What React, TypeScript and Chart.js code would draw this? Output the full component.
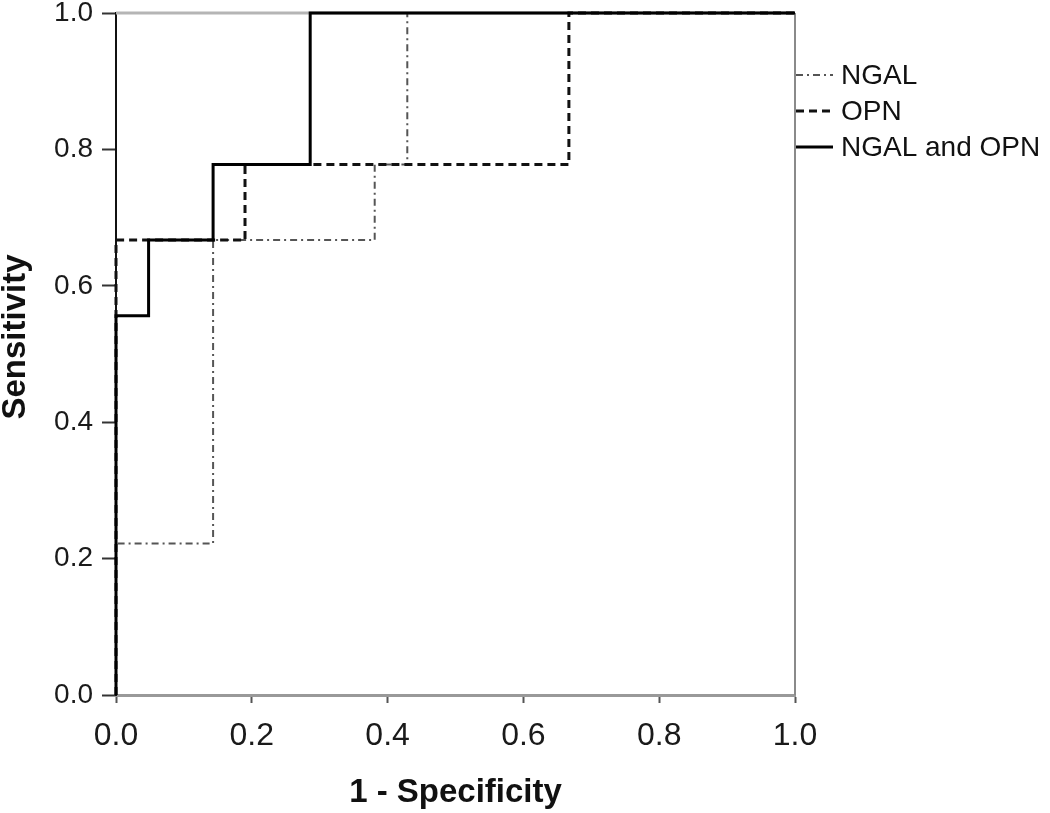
import React, { useEffect, useRef } from "react";
import { Chart, registerables } from "chart.js";

Chart.register(...registerables);

// ROC curve points (1 - Specificity, Sensitivity)
const combinedFpr = [0, 0, 0.048, 0.048, 0.143, 0.143, 0.286, 0.286, 1.0];
const combinedTpr = [0, 0.556, 0.556, 0.667, 0.667, 0.778, 0.778, 1.0, 1.0];

const opnFpr = [0, 0, 0.19, 0.19, 0.667, 0.667, 1.0];
const opnTpr = [0, 0.667, 0.667, 0.778, 0.778, 1.0, 1.0];

const ngalFpr = [0, 0, 0.143, 0.143, 0.381, 0.381, 0.429, 0.429, 1.0];
const ngalTpr = [0, 0.222, 0.222, 0.667, 0.667, 0.778, 0.778, 1.0, 1.0];

const seriesNames = ["NGAL", "OPN", "NGAL and OPN"];
const tickValues = [0, 0.2, 0.4, 0.6, 0.8, 1.0];
const xTitle = "1 - Specificity";
const yTitle = "Sensitivity";

const FONT = "'Liberation Sans', Arial, sans-serif";

const toPoints = (xs: number[], ys: number[]) => xs.map((x, i) => ({ x, y: ys[i] }));

export default function App() {
  const ref = useRef<HTMLCanvasElement | null>(null);

  useEffect(() => {
    const canvas = ref.current;
    if (!canvas) return;

    const legendItems = [
      { label: seriesNames[0], color: "#555", width: 2, dash: [7, 4, 2, 4] },
      { label: seriesNames[1], color: "#111", width: 3, dash: [8, 5] },
      { label: seriesNames[2], color: "#000", width: 3, dash: [] as number[] },
    ];
    const legendOffsets = [62, 98, 134];

    const framePlugin = {
      id: "frame",
      beforeDatasetsDraw(chart: any) {
        const { ctx, chartArea } = chart;
        ctx.save();
        ctx.strokeStyle = "#b5b5b5";
        ctx.lineWidth = 3;
        ctx.beginPath();
        ctx.moveTo(chartArea.left, chartArea.top);
        ctx.lineTo(chartArea.right, chartArea.top);
        ctx.stroke();
        ctx.strokeStyle = "#8a8a8a";
        ctx.lineWidth = 2;
        ctx.beginPath();
        ctx.moveTo(chartArea.right, chartArea.top);
        ctx.lineTo(chartArea.right, chartArea.bottom);
        ctx.stroke();
        ctx.restore();
      },
      afterDraw(chart: any) {
        const { ctx, chartArea } = chart;
        ctx.save();
        legendItems.forEach((it, i) => {
          const y = chartArea.top + legendOffsets[i];
          ctx.strokeStyle = it.color;
          ctx.lineWidth = it.width;
          ctx.setLineDash(it.dash);
          ctx.beginPath();
          ctx.moveTo(chartArea.right + 1, y);
          ctx.lineTo(chartArea.right + 38, y);
          ctx.stroke();
          ctx.setLineDash([]);
          ctx.fillStyle = "#111";
          ctx.font = `28px ${FONT}`;
          ctx.textAlign = "left";
          ctx.textBaseline = "middle";
          ctx.fillText(it.label, chartArea.right + 46, y + 1);
        });
        // y axis title
        ctx.save();
        ctx.translate(16, chartArea.top + 324);
        ctx.rotate(-Math.PI / 2);
        ctx.fillStyle = "#111";
        ctx.font = `bold 33px ${FONT}`;
        ctx.textAlign = "center";
        ctx.textBaseline = "middle";
        ctx.fillText(yTitle, 0, 0);
        ctx.restore();
        ctx.restore();
      },
    };

    const chart = new Chart(canvas, {
      type: "line",
      data: {
        datasets: [
          {
            label: seriesNames[2],
            data: toPoints(combinedFpr, combinedTpr),
            borderColor: "#000",
            borderWidth: 3,
            pointRadius: 0,
            fill: false,
            tension: 0,
            clip: 8,
          },
          {
            label: seriesNames[1],
            data: toPoints(opnFpr, opnTpr),
            borderColor: "#111",
            borderWidth: 3,
            borderDash: [8, 5],
            pointRadius: 0,
            fill: false,
            tension: 0,
            clip: 8,
          },
          {
            label: seriesNames[0],
            data: toPoints(ngalFpr, ngalTpr),
            borderColor: "#555",
            borderWidth: 2,
            borderDash: [7, 4, 2, 4],
            pointRadius: 0,
            fill: false,
            tension: 0,
            clip: 8,
          },
        ],
      },
      options: {
        responsive: false,
        animation: false,
        layout: { padding: { left: 0, top: 13, right: 255, bottom: 0 } },
        plugins: {
          legend: { display: false },
          tooltip: { enabled: false },
        },
        scales: {
          x: {
            type: "linear",
            min: 0,
            max: 1,
            afterBuildTicks: (scale: any) => {
              scale.ticks = tickValues.map((v) => ({ value: v }));
            },
            afterFit: (scale: any) => {
              scale.height = 118;
              scale.paddingLeft = 0;
              scale.paddingRight = 0;
            },
            ticks: {
              callback: (v: any) => Number(v).toFixed(1),
              color: "#1a1a1a",
              font: { family: FONT, size: 32 },
              padding: 14,
              maxRotation: 0,
              autoSkip: false,
            },
            grid: {
              drawOnChartArea: false,
              drawTicks: true,
              tickLength: 8,
              tickColor: "#555",
              tickWidth: 2,
            },
            border: { display: true, color: "#999", width: 3 },
            title: {
              display: true,
              text: xTitle,
              color: "#111",
              font: { family: FONT, size: 33, weight: "bold" },
              padding: { top: 0, bottom: 0 },
            },
          },
          y: {
            type: "linear",
            min: 0,
            max: 1,
            afterBuildTicks: (scale: any) => {
              scale.ticks = tickValues.map((v) => ({ value: v }));
            },
            afterFit: (scale: any) => {
              scale.width = 116;
              scale.paddingTop = 0;
              scale.paddingBottom = 0;
            },
            ticks: {
              callback: (v: any) => Number(v).toFixed(1),
              color: "#1a1a1a",
              font: { family: FONT, size: 28 },
              padding: 9,
              autoSkip: false,
            },
            grid: {
              drawOnChartArea: false,
              drawTicks: true,
              tickLength: 14,
              tickColor: "#333",
              tickWidth: 2,
            },
            border: { display: true, color: "#111", width: 2 },
            title: { display: false, text: yTitle },
          },
        },
      },
      plugins: [framePlugin],
    });

    return () => chart.destroy();
  }, []);

  return (
    <div style={{ position: "fixed", left: 0, top: 0, width: 1050, height: 813, background: "#fff" }}>
      <canvas ref={ref} width={1050} height={813} style={{ display: "block", width: 1050, height: 813 }} />
    </div>
  );
}
